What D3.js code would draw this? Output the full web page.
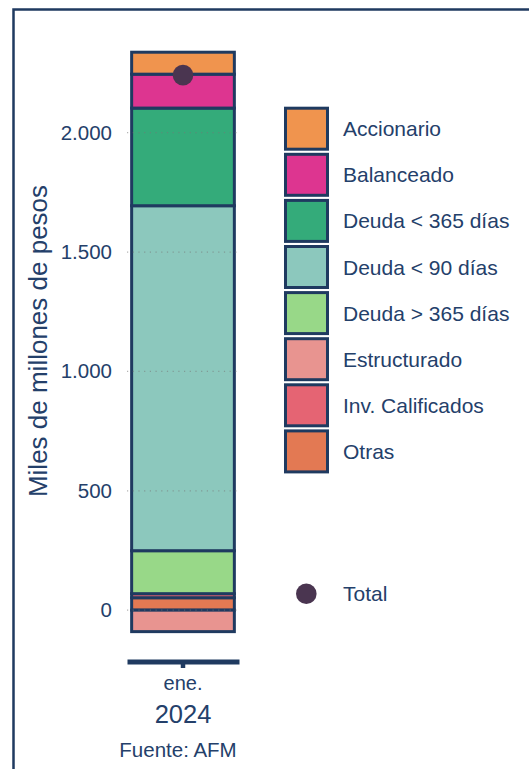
<!DOCTYPE html>
<html>
<head>
<meta charset="utf-8">
<script src="https://cdn.jsdelivr.net/npm/d3@7"></script>
<style>
  body { margin: 0; background: #fff; }
  svg { display: block; font-family: "Liberation Sans", Arial, sans-serif; }
</style>
</head>
<body>
<svg></svg>
<script>
// data
const periods = ["ene. 2024"];
const series = ["Accionario", "Balanceado", "Deuda < 365 días", "Deuda < 90 días",
                "Deuda > 365 días", "Estructurado", "Inv. Calificados", "Otras"];
const values = {
  "Accionario": [92],
  "Balanceado": [142],
  "Deuda < 365 días": [409],
  "Deuda < 90 días": [1445],
  "Deuda > 365 días": [180],
  "Estructurado": [-90],
  "Inv. Calificados": [17],
  "Otras": [52]
};
const totals = [2241];
const yTicks = [0, 500, 1000, 1500, 2000];

const colors = ["#f0944e", "#dd3590", "#34ab7a", "#8cc8bd",
                "#98d888", "#e89490", "#e56473", "#e37953"];
const navy = "#1f3a60";
const textCol = "#24406a";

const W = 529, H = 769;
const svg = d3.select("svg").attr("width", W).attr("height", H);

// frame
svg.append("rect")
   .attr("x", 13.5).attr("y", 9.5)
   .attr("width", 600).attr("height", 800)
   .attr("fill", "#fff")
   .attr("stroke", navy)
   .attr("stroke-width", 2.5);

const color = d3.scaleOrdinal().domain(series).range(colors);

const x = d3.scaleBand().domain(periods).range([127, 239])
            .paddingInner(0).paddingOuter(0.04);
const y = d3.scaleLinear().domain([-213, 2420]).range([661, 32.4]);

const table = periods.map((p, i) => {
  const row = { period: p };
  series.forEach(s => row[s] = values[s][i]);
  return row;
});

// bottom of stack first
const stack = d3.stack()
  .keys(series.slice().reverse())
  .offset(d3.stackOffsetDiverging);
const layers = stack(table);

// bars
svg.append("g")
  .selectAll("g")
  .data(layers)
  .enter()
  .append("g")
  .attr("fill", d => color(d.key))
  .selectAll("rect")
  .data(d => d)
  .enter()
  .append("rect")
  .attr("x", d => x(d.data.period) + 0.5)
  .attr("width", x.bandwidth() - 1)
  .attr("y", d => y(Math.max(d[0], d[1])))
  .attr("height", d => Math.abs(y(d[0]) - y(d[1])))
  .attr("stroke", navy)
  .attr("stroke-width", 3);

// gridlines (dotted, over bars)
svg.append("g")
  .selectAll("line")
  .data(yTicks)
  .enter()
  .append("line")
  .attr("x1", 127).attr("x2", 239)
  .attr("y1", d => y(d)).attr("y2", d => y(d))
  .attr("stroke", "#777")
  .attr("stroke-opacity", 0.55)
  .attr("stroke-width", 1.2)
  .attr("stroke-dasharray", "1.2,4.5");

// y axis
const locale = d3.formatLocale({ decimal: ",", thousands: ".", grouping: [3], currency: ["$", ""] });
const fmt = locale.format(",d");
const yAxis = svg.append("g")
  .attr("transform", "translate(127,0)")
  .call(d3.axisLeft(y).tickValues(yTicks).tickSize(0).tickPadding(15).tickFormat(fmt));
yAxis.select(".domain").remove();
yAxis.selectAll("text")
  .attr("fill", textCol)
  .style("font-size", "20.5px")
  .style("font-family", "Liberation Sans, Arial, sans-serif");

svg.append("text")
  .attr("transform", "translate(47,341) rotate(-90)")
  .attr("text-anchor", "middle")
  .attr("fill", textCol)
  .style("font-size", "26px")
  .text("Miles de millones de pesos");

// x axis
const xAxis = svg.append("g")
  .attr("transform", "translate(0,661.5)")
  .call(d3.axisBottom(x).tickSize(6.5).tickSizeOuter(0).tickFormat(""));
xAxis.select(".domain").attr("stroke", navy).attr("stroke-width", 5);
xAxis.selectAll(".tick line").attr("stroke", navy).attr("stroke-width", 4.5);

const cx = x(periods[0]) + x.bandwidth() / 2;
svg.append("text")
  .attr("x", cx).attr("y", 690)
  .attr("text-anchor", "middle")
  .attr("fill", textCol)
  .style("font-size", "20px")
  .text(periods[0].split(" ")[0]);
svg.append("text")
  .attr("x", cx).attr("y", 722.5)
  .attr("text-anchor", "middle")
  .attr("fill", textCol)
  .style("font-size", "25.5px")
  .text(periods[0].split(" ")[1]);
svg.append("text")
  .attr("x", cx - 5).attr("y", 756.5)
  .attr("text-anchor", "middle")
  .attr("fill", textCol)
  .style("font-size", "20.5px")
  .text("Fuente: AFM");

// total points
svg.append("g")
  .selectAll("circle")
  .data(totals)
  .enter()
  .append("circle")
  .attr("cx", (d, i) => x(periods[i]) + x.bandwidth() / 2)
  .attr("cy", d => y(d))
  .attr("r", 10.3)
  .attr("fill", "#4a3550");

// legend
const legend = svg.append("g").attr("transform", "translate(0,128.7)");
const item = legend.selectAll("g")
  .data(series)
  .enter()
  .append("g")
  .attr("transform", (d, i) => `translate(0,${i * 46.1})`);
item.append("rect")
  .attr("x", 285.5).attr("y", -20.5)
  .attr("width", 42).attr("height", 41)
  .attr("fill", d => color(d))
  .attr("stroke", navy)
  .attr("stroke-width", 3);
item.append("text")
  .attr("x", 343).attr("y", 0).attr("dy", "0.36em")
  .attr("fill", textCol)
  .style("font-size", "21px")
  .text(d => d);

svg.append("circle")
  .attr("cx", 306.3).attr("cy", 593.7).attr("r", 10.3)
  .attr("fill", "#4a3550");
svg.append("text")
  .attr("x", 343).attr("y", 593.7).attr("dy", "0.36em")
  .attr("fill", textCol)
  .style("font-size", "21px")
  .text("Total");
</script>
</body>
</html>
